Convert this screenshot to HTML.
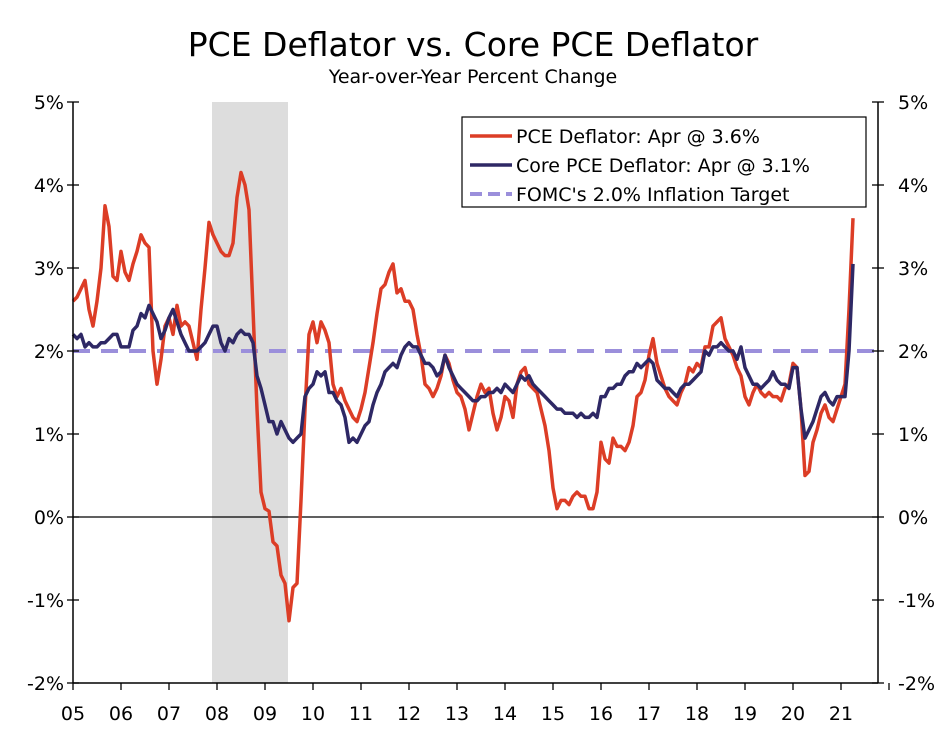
<!DOCTYPE html>
<html><head><meta charset="utf-8"><style>
body{margin:0;background:#fff;}
svg text{font-family:"DejaVu Sans","Liberation Sans",sans-serif;fill:#000;}
</style></head><body>
<svg id="chart" width="947" height="727" xmlns="http://www.w3.org/2000/svg">
<text x="473" y="56" text-anchor="middle" font-size="33">PCE Deflator vs. Core PCE Deflator</text>
<text x="473" y="83" text-anchor="middle" font-size="19">Year-over-Year Percent Change</text>
<g id="plot"></g>
</svg>
<script>
const yearLabels=["05","06","07","08","09","10","11","12","13","14","15","16","17","18","19","20","21"];
const yTicks=[-2,-1,0,1,2,3,4,5];
const recession=[34.75,53.75];
const target=2.0;
const pce=[2.6,2.65,2.75,2.85,2.5,2.3,2.6,3.0,3.75,3.5,2.9,2.85,
3.2,2.95,2.85,3.05,3.2,3.4,3.3,3.25,2.0,1.6,1.9,2.3,
2.4,2.2,2.55,2.3,2.35,2.3,2.1,1.9,2.5,3.0,3.55,3.4,
3.3,3.2,3.15,3.15,3.3,3.85,4.15,4.0,3.7,2.5,1.3,0.3,
0.1,0.07,-0.3,-0.35,-0.7,-0.8,-1.25,-0.85,-0.8,0.2,1.3,2.2,
2.35,2.1,2.35,2.25,2.1,1.6,1.45,1.55,1.4,1.3,1.2,1.15,
1.3,1.5,1.8,2.1,2.45,2.75,2.8,2.95,3.05,2.7,2.75,2.6,
2.6,2.5,2.2,1.95,1.6,1.55,1.45,1.55,1.7,1.95,1.85,1.65,
1.5,1.45,1.3,1.05,1.25,1.45,1.6,1.5,1.55,1.25,1.05,1.2,
1.45,1.4,1.2,1.6,1.75,1.8,1.6,1.55,1.5,1.3,1.1,0.8,
0.35,0.1,0.2,0.2,0.15,0.25,0.3,0.25,0.25,0.1,0.1,0.3,
0.9,0.7,0.65,0.95,0.85,0.85,0.8,0.9,1.1,1.45,1.5,1.65,
1.95,2.15,1.85,1.7,1.55,1.45,1.4,1.35,1.5,1.6,1.8,1.75,
1.85,1.8,2.05,2.05,2.3,2.35,2.4,2.15,2.05,1.95,1.8,1.7,
1.45,1.35,1.5,1.6,1.5,1.45,1.5,1.45,1.45,1.4,1.55,1.6,
1.85,1.8,1.3,0.5,0.55,0.9,1.05,1.25,1.35,1.2,1.15,1.3,
1.45,1.6,2.5,3.6];
const core=[2.2,2.15,2.2,2.05,2.1,2.05,2.05,2.1,2.1,2.15,2.2,2.2,
2.05,2.05,2.05,2.25,2.3,2.45,2.4,2.55,2.45,2.35,2.15,2.25,
2.4,2.5,2.35,2.2,2.1,2.0,2.0,2.0,2.05,2.1,2.2,2.3,
2.3,2.1,2.0,2.15,2.1,2.2,2.25,2.2,2.2,2.1,1.7,1.55,
1.35,1.15,1.15,1.0,1.15,1.05,0.95,0.9,0.95,1.0,1.45,1.55,
1.6,1.75,1.7,1.75,1.5,1.5,1.4,1.35,1.2,0.9,0.95,0.9,
1.0,1.1,1.15,1.35,1.5,1.6,1.75,1.8,1.85,1.8,1.95,2.05,
2.1,2.05,2.05,1.95,1.85,1.85,1.8,1.7,1.75,1.95,1.8,1.7,
1.6,1.55,1.5,1.45,1.4,1.4,1.45,1.45,1.5,1.5,1.55,1.5,
1.6,1.55,1.5,1.6,1.7,1.65,1.7,1.6,1.55,1.5,1.45,1.4,
1.35,1.3,1.3,1.25,1.25,1.25,1.2,1.25,1.2,1.2,1.25,1.2,
1.45,1.45,1.55,1.55,1.6,1.6,1.7,1.75,1.75,1.85,1.8,1.85,
1.9,1.85,1.65,1.6,1.55,1.55,1.5,1.45,1.55,1.6,1.6,1.65,
1.7,1.75,2.0,1.95,2.05,2.05,2.1,2.05,2.0,2.0,1.9,2.05,
1.8,1.7,1.6,1.6,1.55,1.6,1.65,1.75,1.65,1.6,1.6,1.55,
1.8,1.8,1.3,0.95,1.05,1.15,1.3,1.45,1.5,1.4,1.35,1.45,
1.45,1.45,2.0,3.05];
const legendLabels=["PCE Deflator: Apr @ 3.6%","Core PCE Deflator: Apr @ 3.1%","FOMC's 2.0% Inflation Target"];

const L=73,R=878,T=102,B=683;
const xs=m=>L+m*4;
const ys=v=>T+(5-v)*(B-T)/7;
const NS="http://www.w3.org/2000/svg";
const g=document.getElementById('plot');
function mk(t,a){const e=document.createElementNS(NS,t);for(const k in a)e.setAttribute(k,a[k]);g.appendChild(e);return e;}

let e=mk('rect',{x:xs(recession[0]),y:T,width:xs(recession[1])-xs(recession[0]),height:B-T,fill:'#dddddd'});



e=mk('line',{x1:L,x2:R,y1:ys(0),y2:ys(0),stroke:'#000','stroke-width':1.3});



e=mk('line',{x1:L,x2:R-2,y1:ys(target),y2:ys(target),stroke:'#9b8fdb','stroke-width':4,'stroke-dasharray':'17,11'});



function path(arr,color,name){
  const d=arr.map((v,i)=>(i?'L':'M')+xs(i).toFixed(1)+','+ys(v).toFixed(1)).join('');
  const p=mk('path',{d:d,fill:'none',stroke:color,'stroke-width':3.5,'stroke-linejoin':'round'});
  
  
}
path(pce,'#dc3d26','pce-deflator-line');
path(core,'#2e2865','core-pce-deflator-line');

// axes
e=mk('line',{x1:L,x2:L,y1:T,y2:B,stroke:'#000','stroke-width':1.5});


e=mk('line',{x1:R,x2:R,y1:T,y2:B,stroke:'#000','stroke-width':1.5});


e=mk('line',{x1:L,x2:R,y1:B,y2:B,stroke:'#000','stroke-width':1.5});



yTicks.forEach(v=>{
  const y=ys(v);
  mk('line',{x1:L-6,x2:L+6,y1:y,y2:y,stroke:'#000','stroke-width':1.3});
  mk('line',{x1:R-6,x2:R+6,y1:y,y2:y,stroke:'#000','stroke-width':1.3});
  let t=mk('text',{x:L-9,y:y+7,'text-anchor':'end','font-size':19});
  t.textContent=v+'%';
  
  
  t=mk('text',{x:R+20,y:y+7,'text-anchor':'start','font-size':19});
  t.textContent=v+'%';
  
  
});
yearLabels.forEach((lab,i)=>{
  const x=xs(i*12);
  mk('line',{x1:x,x2:x,y1:B,y2:B+7,stroke:'#000','stroke-width':1.3});
  const t=mk('text',{x:x,y:B+37,'text-anchor':'middle','font-size':19});
  t.textContent=lab;
  
  
});
mk('line',{x1:xs(17*12),x2:xs(17*12),y1:B,y2:B+7,stroke:'#000','stroke-width':1.3});

// legend
e=mk('rect',{x:462,y:117,width:404,height:90,fill:'#fff',stroke:'#000','stroke-width':1.2});


const lc=['#dc3d26','#2e2865','#9b8fdb'];
legendLabels.forEach((lab,i)=>{
  const y=136+i*29;
  const ln=mk('line',{x1:470,x2:512,y1:y,y2:y,stroke:lc[i],'stroke-width':i==2?4:3.5,'stroke-dasharray':i==2?'12,6':'none'});
  
  
  const t=mk('text',{x:516,y:y+7,'font-size':19});
  t.textContent=lab;
  
  
});
</script>
</body></html>
